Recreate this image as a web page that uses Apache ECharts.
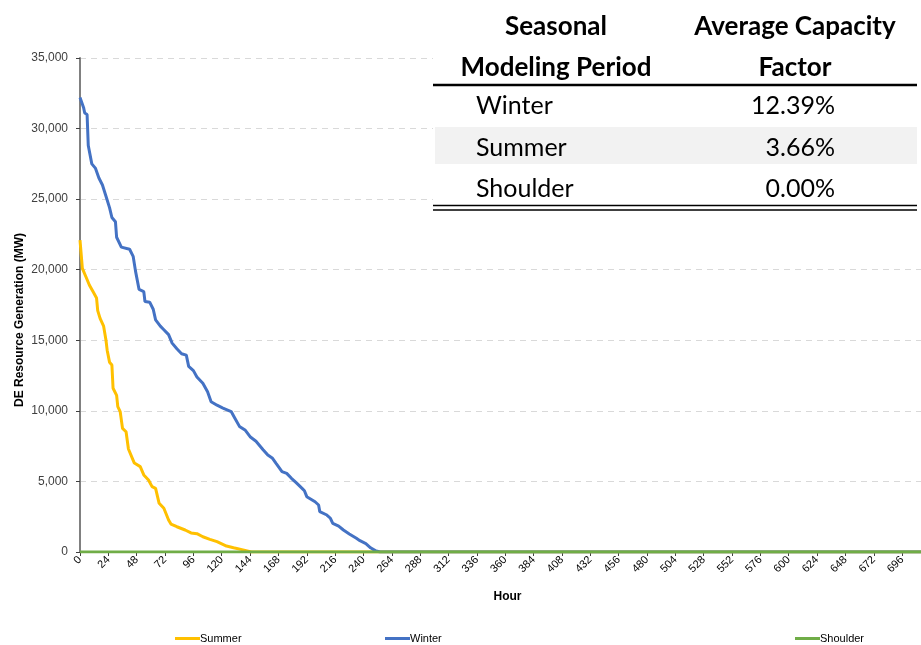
<!DOCTYPE html>
<html>
<head>
<meta charset="utf-8">
<script src="https://cdn.jsdelivr.net/npm/echarts@6/dist/echarts.min.js"></script>
<style>
html,body{margin:0;padding:0;background:#fff;}
#chart{width:921px;height:645px;}
</style>
</head>
<body>
<div id="chart"></div>
<script>
// ---- data (hour, MW) ----
const summer = [[0,22100],[1,22000],[2,20100],[5,19500],[8,18900],[11,18450],[14,18000],[15,17100],[17,16550],[20,16000],[22,15000],[23,14300],[25,13450],[27,13250],[28,11600],[31,11100],[32,10300],[34,9950],[36,8760],[39,8520],[41,7300],[46,6300],[51,6050],[54,5460],[58,5100],[61,4630],[64,4510],[67,3450],[71,3100],[75,2270],[77,1980],[82,1790],[89,1560],[94,1350],[99,1300],[104,1080],[110,900],[116,730],[124,420],[130,300],[138,150],[145,0],[712,0]];
const winter = [[0,32200],[1,32100],[3,31500],[4,31100],[6,31000],[7,28800],[10,27500],[13,27200],[16,26500],[19,26000],[22,25200],[25,24400],[27,23700],[30,23400],[31,22300],[35,21600],[42,21450],[45,20950],[47,19900],[50,18600],[54,18450],[55,17750],[59,17700],[62,17200],[64,16450],[68,16000],[71,15750],[75,15400],[78,14800],[82,14400],[86,14050],[90,13950],[92,13150],[96,12850],[99,12400],[104,11950],[108,11350],[111,10650],[116,10400],[121,10200],[128,9950],[131,9500],[135,8900],[140,8620],[144,8170],[149,7850],[155,7250],[159,6870],[163,6640],[166,6280],[171,5690],[175,5570],[179,5220],[183,4910],[188,4510],[190,4340],[192,3920],[199,3560],[202,3330],[203,2860],[209,2620],[212,2390],[214,2030],[219,1840],[223,1560],[228,1280],[234,970],[237,800],[242,600],[246,300],[250,100],[254,0],[712,0]];
const shoulder = [[0,0],[712,0]];
const seriesNames = ['Summer','Winter','Shoulder'];
const tableHeaderCol1 = ['Seasonal','Modeling Period'];
const tableHeaderCol2 = ['Average Capacity','Factor'];
const tableSeasons = ['Winter','Summer','Shoulder'];
const tableFactors = ['12.39%','3.66%','0.00%'];

const colors = {Summer:'#FFC000', Winter:'#4472C4', Shoulder:'#70AD47'};
const chart = echarts.init(document.getElementById('chart'), null, {renderer:'canvas'});

function txt(text, x, y, font, align) {
  return {type:'text', z:10, style:{text:text, x:x, y:y, font:font, fill:'#000',
    textAlign:align, align:align, textVerticalAlign:'middle', verticalAlign:'middle'}};
}
const tableEls = [];
tableEls.push({type:'rect', z:5, shape:{x:433,y:0,width:488,height:216}, style:{fill:'#fff'}});
tableEls.push({type:'rect', z:6, shape:{x:435,y:127,width:482,height:37}, style:{fill:'#F2F2F2'}});
tableEls.push({type:'line', z:7, shape:{x1:433,y1:85,x2:917,y2:85}, style:{stroke:'#000',lineWidth:2.5}});
tableEls.push({type:'line', z:7, shape:{x1:433,y1:205.5,x2:917,y2:205.5}, style:{stroke:'#000',lineWidth:1.5}});
tableEls.push({type:'line', z:7, shape:{x1:433,y1:210,x2:917,y2:210}, style:{stroke:'#000',lineWidth:1.5}});
const hdrY = [27, 68];
tableHeaderCol1.forEach((t,i)=>tableEls.push(txt(t, 556, hdrY[i], 'bold 26px Lato', 'center')));
tableHeaderCol2.forEach((t,i)=>tableEls.push(txt(t, 795, hdrY[i], 'bold 26px Lato', 'center')));
const rowY = [106, 148, 189];
tableSeasons.forEach((t,i)=>tableEls.push(txt(t, 476, rowY[i], '25px Lato', 'left')));
tableFactors.forEach((t,i)=>tableEls.push(txt(t, 835, rowY[i], '25px Lato', 'right')));

const dataMap = {Summer:summer, Winter:winter, Shoulder:shoulder};
const legendX = {Summer:175, Winter:385, Shoulder:795};

chart.setOption({
  animation:false,
  textStyle:{fontFamily:'Liberation Sans, Arial, sans-serif'},
  grid:{left:80, top:58, right:0, bottom:93, containLabel:false},
  legend: seriesNames.map(n=>({
    data:[n], left:legendX[n], top:633, icon:'rect', itemWidth:25, itemHeight:3,
    itemGap:0, padding:0, textStyle:{fontSize:11, color:'#000', padding:[0,0,0,-5]}
  })),
  xAxis:{
    type:'value', min:0, max:712, interval:24,
    name:'Hour', nameLocation:'middle', nameGap:39,
    nameTextStyle:{fontWeight:'bold', fontSize:12, color:'#000', padding:[0,0,0,14]},
    axisLine:{show:true, onZero:false, lineStyle:{color:'#808080', width:1.5}},
    axisTick:{show:true, length:4, lineStyle:{color:'#404040'}},
    axisLabel:{rotate:45, fontSize:11, color:'#000', margin:6, showMaxLabel:false},
    splitLine:{show:false}
  },
  yAxis:{
    type:'value', min:0, max:35000, interval:5000,
    name:'DE Resource Generation (MW)', nameLocation:'middle', nameGap:54,
    nameMoveOverlap:false,
    nameTextStyle:{fontWeight:'bold', fontSize:12, color:'#000', padding:[0,30,0,0]},
    axisLine:{show:true, lineStyle:{color:'#808080', width:2}},
    axisTick:{show:true, length:4, lineStyle:{color:'#404040'}},
    axisLabel:{fontSize:12, color:'#404040', margin:12,
      formatter:v=>v.toLocaleString('en-US')},
    splitLine:{show:true, lineStyle:{color:'#D9D9D9', type:[6,5], width:1}}
  },
  series: seriesNames.map(n=>({
    name:n, type:'line', data:dataMap[n], showSymbol:false, symbol:'none',
    lineStyle:{color:colors[n], width:3}, itemStyle:{color:colors[n]}
  })),
  graphic: tableEls
});
</script>
</body>
</html>
